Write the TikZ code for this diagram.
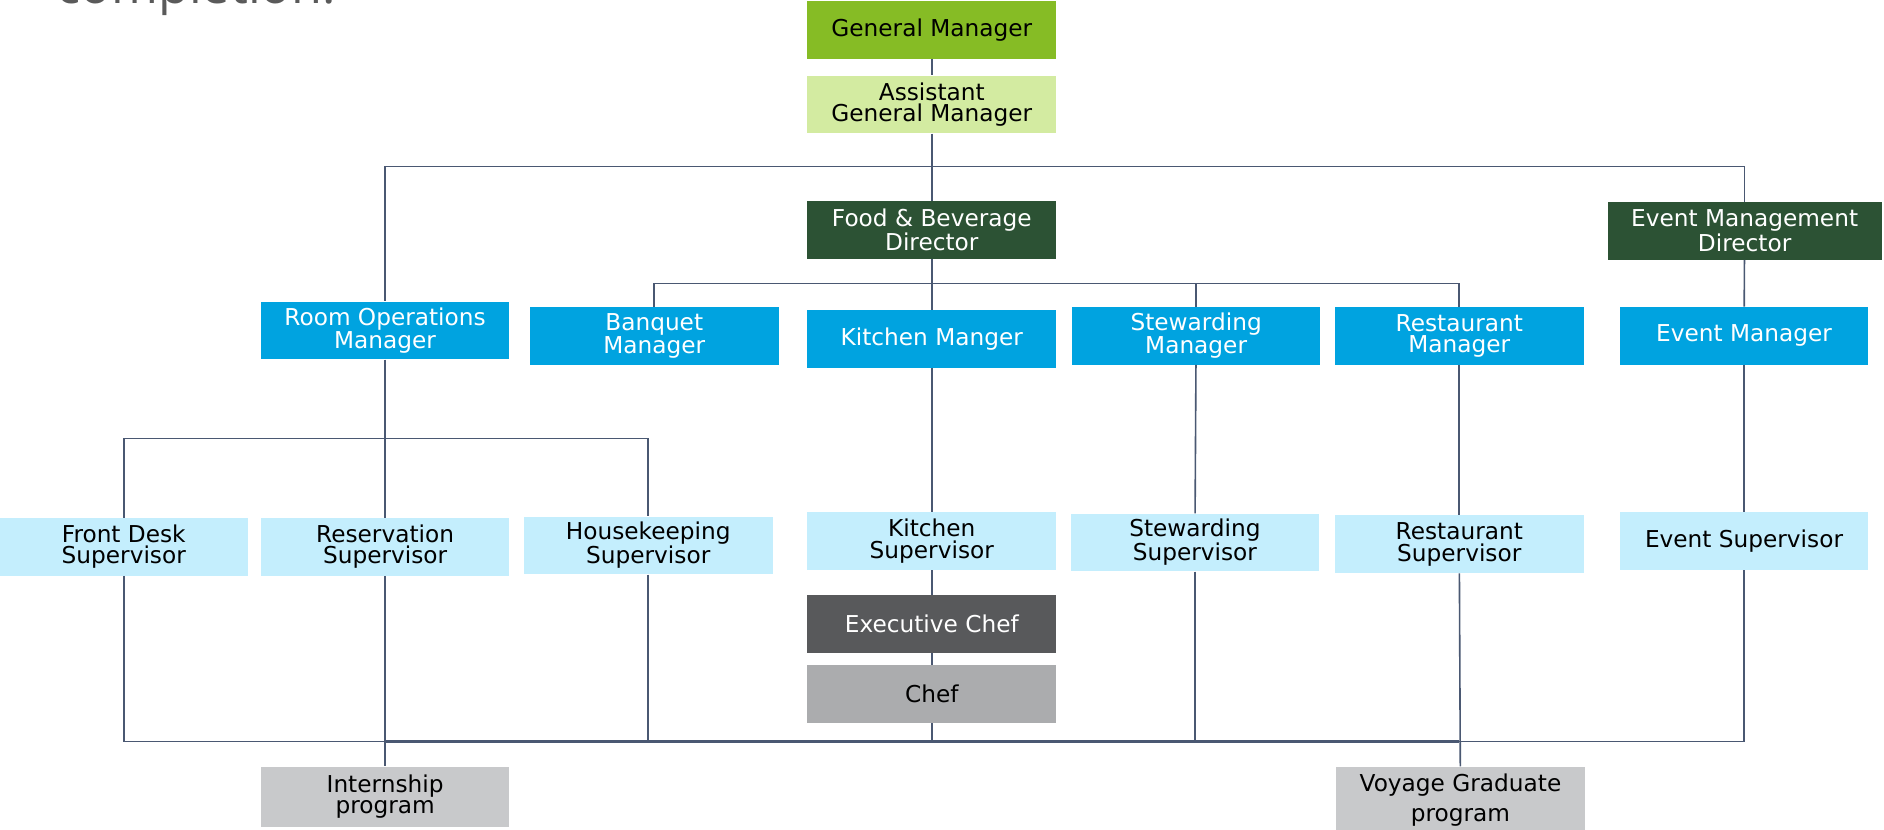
\documentclass[tikz,border=0pt]{standalone}
\usepackage{fontspec}
\setmainfont{DejaVu Sans}
\newfontfamily\titlefont{Open Sans}
\definecolor{gmgreen}{HTML}{86BC25}
\definecolor{agmgreen}{HTML}{D3EBA1}
\definecolor{dirgreen}{HTML}{2C5234}
\definecolor{mgrblue}{HTML}{00A3E0}
\definecolor{supblue}{HTML}{C4EEFD}
\definecolor{execgray}{HTML}{58595B}
\definecolor{chefgray}{HTML}{ABACAE}
\definecolor{proggray}{HTML}{C8C9CB}
\definecolor{linkslate}{HTML}{4A5872}
\definecolor{titlegray}{HTML}{5A5A5A}

\begin{document}
\begin{tikzpicture}[x=0.75pt,y=0.75pt,yscale=-1,xscale=1,
  orgbox/.style={minimum width=155.25pt,minimum height=36pt,inner sep=0pt,align=center,font=\fontsize{14.5}{13.5}\selectfont},
  gmbox/.style={orgbox,fill=gmgreen,text=black},
  agmbox/.style={orgbox,fill=agmgreen,text=black},
  dirbox/.style={orgbox,fill=dirgreen,text=white},
  mgrbox/.style={orgbox,fill=mgrblue,text=white},
  supbox/.style={orgbox,fill=supblue,text=black},
  execbox/.style={orgbox,fill=execgray,text=white},
  chefbox/.style={orgbox,fill=chefgray,text=black},
  progbox/.style={orgbox,fill=proggray,text=black},
  link/.style={draw=linkslate,line width=1pt},
  buslink/.style={draw=linkslate,line width=1.8pt}]
\useasboundingbox (0,0) rectangle (1568,690);
\node[anchor=base west,inner sep=0pt,text=titlegray,font=\titlefont\fontsize{31.5}{31.5}\selectfont] (title) at (47,3) {completion.};
\node[gmbox] (gm) at (775.5,25) {General Manager};
\node[agmbox] (agm) at (775.5,87) {Assistant\\General Manager};
\node[dirbox] (fb) at (775.5,191.5) {Food \& Beverage\\Director};
\node[dirbox,minimum width=171pt] (emd) at (1452,192) {Event Management\\Director};
\node[mgrbox] (room) at (320.5,275) {Room Operations\\Manager};
\node[mgrbox] (banquet) at (544.5,279.5) {Banquet\\Manager};
\node[mgrbox] (kitchenm) at (775.5,282) {Kitchen Manger};
\node[mgrbox] (stewm) at (995.5,279.5) {Stewarding\\Manager};
\node[mgrbox] (restm) at (1214.5,279.5) {Restaurant\\Manager};
\node[mgrbox] (eventm) at (1451.5,279.5) {Event Manager};
\node[supbox,minimum width=154.5pt] (frontdesk) at (103,455) {Front Desk\\Supervisor};
\node[supbox] (reserv) at (320.5,455) {Reservation\\Supervisor};
\node[supbox] (housek) at (539.5,454) {Housekeeping\\Supervisor};
\node[supbox] (kitchens) at (775.5,450.5) {Kitchen\\Supervisor};
\node[supbox] (stews) at (994.5,451.5) {Stewarding\\Supervisor};
\node[supbox] (rests) at (1214.5,453) {Restaurant\\Supervisor};
\node[supbox] (events) at (1451.5,450.5) {Event Supervisor};
\node[execbox] (exec) at (775.5,519.5) {Executive Chef};
\node[chefbox] (chef) at (775.5,577.5) {Chef};
\node[progbox,minimum height=37.5pt] (intern) at (320.5,663) {Internship\\program};
\node[progbox,minimum height=42pt,font=\fontsize{14.5}{18.5}\selectfont] (voyage) at (1215.5,666) {Voyage Graduate\\program};
\coordinate (hubA) at (775.5,138.5);
\coordinate (hubB) at (775.5,236);
\coordinate (hubC) at (320.5,365);
\coordinate (busL) at (320.5,617);
\coordinate (busR) at (1214.5,617);
\draw[link] (gm) -- (agm);
\draw[link] (agm) -- (hubA) -| (room);
\draw[link] (hubA) -| (emd);
\draw[link] (hubA) -- (fb);
\draw[link] (fb) -- (hubB) -| (banquet);
\draw[link] (hubB) -| (stewm);
\draw[link] (hubB) -| (restm);
\draw[link] (hubB) -- (kitchenm);
\draw[link] (emd) -- (eventm);
\draw[link] (room) -- (hubC) -| (frontdesk);
\draw[link] (hubC) -| (housek);
\draw[link] (hubC) -- (reserv);
\draw[link] (kitchenm) -- (kitchens);
\draw[link] (stewm) -- (stews);
\draw[link] (restm) -- (rests);
\draw[link] (eventm) -- (events);
\draw[link] (kitchens) -- (exec);
\draw[link] (exec) -- (chef);
\draw[link] (frontdesk) |- (busL);
\draw[link] (reserv) -- (intern);
\draw[link] (housek) |- (busL);
\draw[link] (chef) |- (busL);
\draw[link] (stews) |- (busL);
\draw[link] (rests) -- (voyage);
\draw[link] (events) |- (busR);
\draw[buslink] (busL) -- (busR);
\end{tikzpicture}
\end{document}
